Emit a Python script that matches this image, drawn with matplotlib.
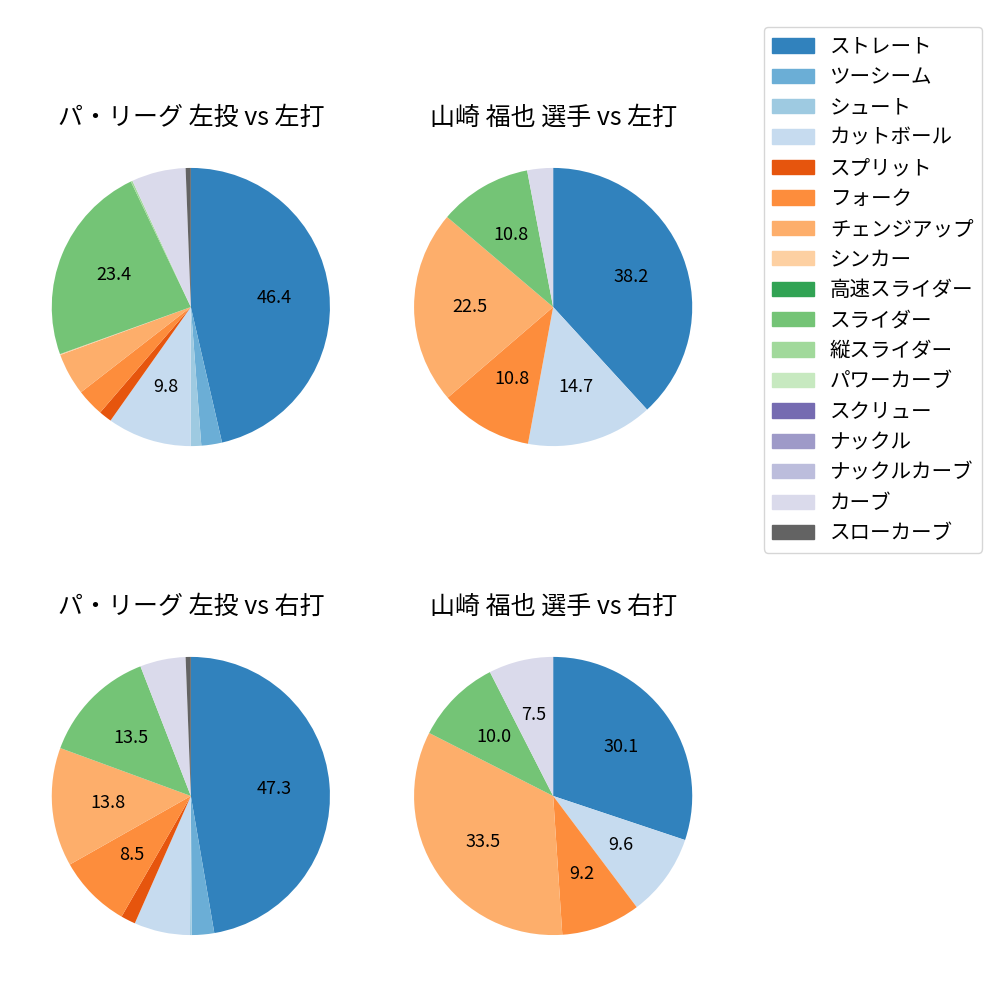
import matplotlib
matplotlib.use("Agg")
import matplotlib.pyplot as plt
from matplotlib.patches import Patch

plt.rcParams['font.family'] = ['Noto Sans CJK JP', 'DejaVu Sans']

# 球種
pitch_types = ["ストレート", "ツーシーム", "シュート", "カットボール", "スプリット",
               "フォーク", "チェンジアップ", "シンカー", "高速スライダー", "スライダー",
               "縦スライダー", "パワーカーブ", "スクリュー", "ナックル", "ナックルカーブ",
               "カーブ", "スローカーブ"]

# 割合 (%)
league_vs_left = [46.4, 2.4, 1.2, 9.8, 1.5, 3.2, 4.9, 0.1, 0.0, 23.4, 0.2, 0.0, 0.0, 0.0, 0.0, 6.3, 0.6]
player_vs_left = [38.2, 0.0, 0.0, 14.7, 0.0, 10.8, 22.5, 0.0, 0.0, 10.8, 0.0, 0.0, 0.0, 0.0, 0.0, 3.0, 0.0]
league_vs_right = [47.3, 2.6, 0.2, 6.5, 1.7, 8.5, 13.8, 0.0, 0.0, 13.5, 0.0, 0.0, 0.0, 0.0, 0.0, 5.3, 0.6]
player_vs_right = [30.1, 0.0, 0.0, 9.6, 0.0, 9.2, 33.5, 0.0, 0.0, 10.0, 0.0, 0.0, 0.0, 0.0, 0.0, 7.5, 0.0]

titles = ["パ・リーグ 左投 vs 左打", "山崎 福也 選手 vs 左打",
          "パ・リーグ 左投 vs 右打", "山崎 福也 選手 vs 右打"]
datas = [league_vs_left, player_vs_left, league_vs_right, player_vs_right]

cmap = plt.get_cmap("tab20c")
colors = [cmap(i) for i in range(len(pitch_types))]

fig, axes = plt.subplots(2, 2, figsize=(10, 10))
fig.subplots_adjust(left=0.017, right=0.727, top=0.867, bottom=0.030, wspace=0.042, hspace=0.405)

for ax, data, title in zip(axes.flat, datas, titles):
    ax.pie(data, colors=colors, startangle=90, counterclock=False,
           autopct=lambda p: f"{p:.1f}" if p >= 7 else "",
           textprops={'fontsize': 13})
    ax.set_title(title, fontsize=18)

handles = [Patch(color=c, label=l) for c, l in zip(colors, pitch_types)]
fig.legend(handles=handles, loc='upper right', bbox_to_anchor=(0.992, 0.983),
           fontsize=14.8, labelspacing=0.41)

plt.savefig("out.png", dpi=100)
